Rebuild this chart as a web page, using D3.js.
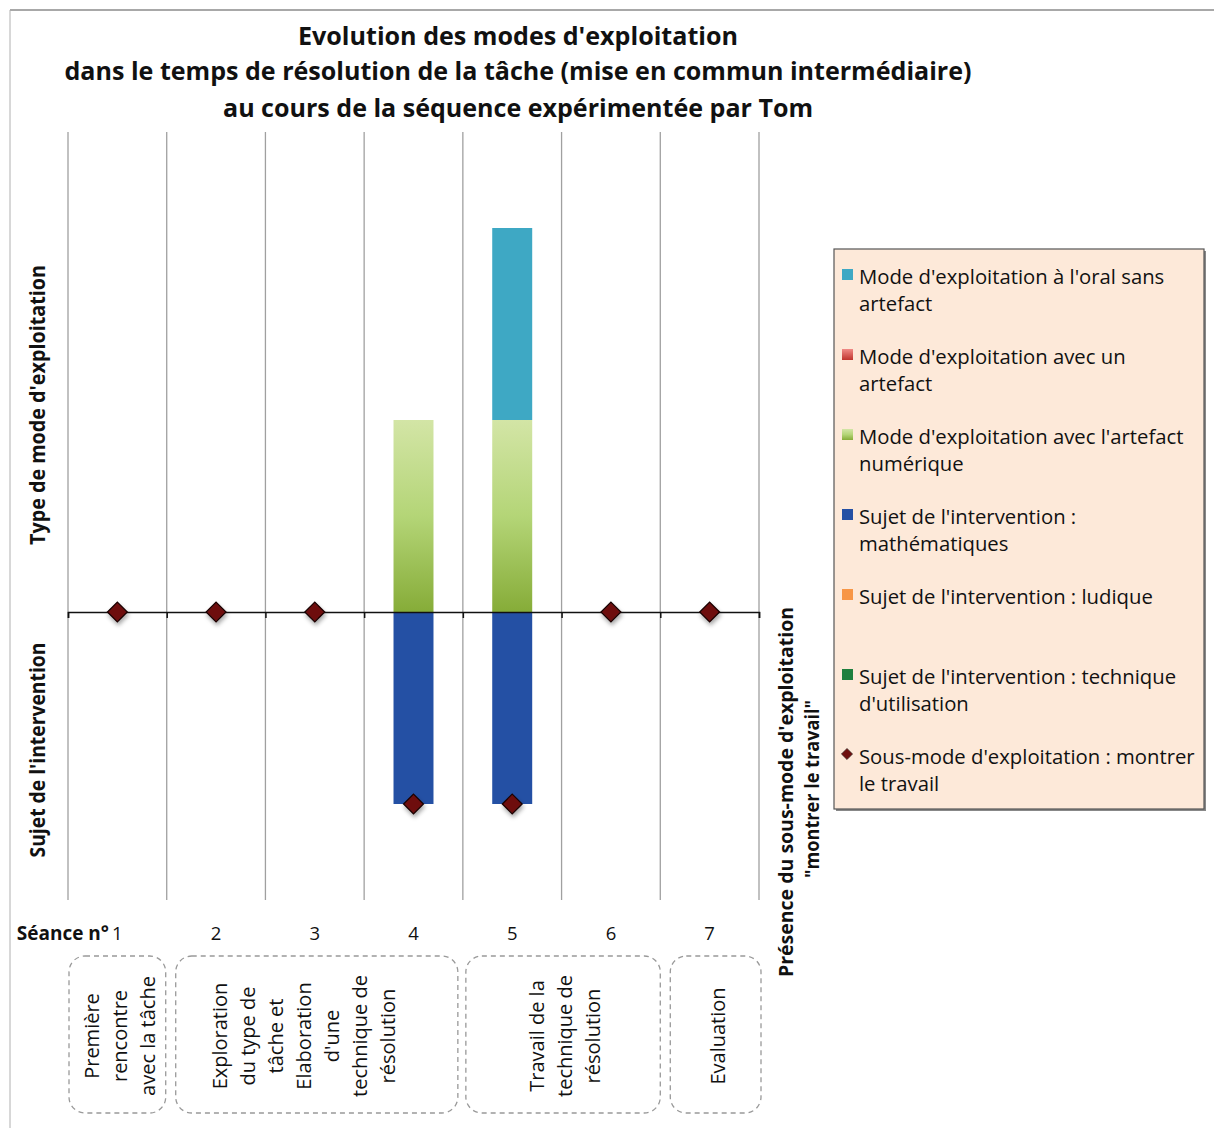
<!DOCTYPE html>
<html><head><meta charset="utf-8">
<script src="https://cdn.jsdelivr.net/npm/d3@7"></script>
<style>
body{margin:0;background:#fff;}
svg{display:block;font-family:"Open Sans",sans-serif;}
</style></head>
<body>
<script>
// ---------- data ----------
const sessions = ["1","2","3","4","5","6","7"];
const oralSansArtefact = [0,0,0,0,1,0,0];
const avecUnArtefact = [0,0,0,0,0,0,0];
const artefactNumerique = [0,0,0,1,1,0,0];
const sujetMaths = [0,0,0,-1,-1,0,0];
const sujetLudique = [0,0,0,0,0,0,0];
const sujetTechnique = [0,0,0,0,0,0,0];
const montrerTravail = [0,0,0,-1,-1,0,0];
const titleLines = ["Evolution des modes d'exploitation",
  "dans le temps de résolution de la tâche (mise en commun intermédiaire)",
  "au cours de la séquence expérimentée par Tom"];
const legendLabels = [
  ["Mode d'exploitation à l'oral sans","artefact"],
  ["Mode d'exploitation avec un","artefact"],
  ["Mode d'exploitation avec l'artefact","numérique"],
  ["Sujet de l'intervention :","mathématiques"],
  ["Sujet de l'intervention : ludique"],
  ["Sujet de l'intervention : technique","d'utilisation"],
  ["Sous-mode d'exploitation : montrer","le travail"]];
const phaseLabels = [
  ["Première","rencontre","avec la tâche"],
  ["Exploration","du type de","tâche et","Elaboration","d'une","technique de","résolution"],
  ["Travail de la","technique de","résolution"],
  ["Evaluation"]];
const phaseStart = ["1","2","5","7"];
const phaseEnd = ["1","4","6","7"];

// ---------- setup ----------
const W=1214,H=1128;
const svg=d3.select("body").append("svg").attr("width",W).attr("height",H);
const defs=svg.append("defs");
function vgrad(id,stops){
  const g=defs.append("linearGradient").attr("id",id).attr("x1",0).attr("y1",0).attr("x2",0).attr("y2",1);
  stops.forEach(s=>g.append("stop").attr("offset",s[0]).attr("stop-color",s[1]));
}
vgrad("gGreen",[[0,"#d3e5a6"],[0.5,"#b4d577"],[1,"#86ac38"]]);
vgrad("gRed",[[0,"#f08a86"],[1,"#c0352e"]]);
const sh=defs.append("filter").attr("id","shadow").attr("x","-50%").attr("y","-50%").attr("width","200%").attr("height","200%");
sh.append("feDropShadow").attr("dx",1).attr("dy",3).attr("stdDeviation",2).attr("flood-color","#000").attr("flood-opacity",0.35);

// frame
svg.append("line").attr("x1",10).attr("x2",W).attr("y1",10).attr("y2",10).attr("stroke","#a8a8a8").attr("stroke-width",2);
svg.append("line").attr("x1",10).attr("x2",10).attr("y1",10).attr("y2",H).attr("stroke","#b0b0b0").attr("stroke-width",1);

// title
const tLens=[440,907,590], tY=[45,80,117];
svg.selectAll("text.title").data(titleLines).join("text").attr("class","title")
  .attr("x",518).attr("y",(d,i)=>tY[i]).attr("text-anchor","middle")
  .attr("font-weight","bold").attr("font-size",25).attr("fill","#111")
  .attr("textLength",(d,i)=>tLens[i]).attr("lengthAdjust","spacingAndGlyphs").text(d=>d);

// scales
const x=d3.scaleBand().domain(sessions).range([68,759]).paddingInner(0.595).paddingOuter(0.2975);
const y=d3.scaleLinear().domain([-1.5,2.5]).range([900,132]);
const bx=d3.scaleLinear().domain([0,7]).range([68,759]);

// gridlines
svg.append("g").selectAll("line").data(d3.range(8)).join("line")
  .attr("x1",d=>bx(d)).attr("x2",d=>bx(d)).attr("y1",y(2.5)).attr("y2",y(-1.5))
  .attr("stroke","#a0a0a0").attr("stroke-width",1.3);

// stacked bars
const posSeries=[{v:artefactNumerique,fill:"url(#gGreen)"},{v:avecUnArtefact,fill:"url(#gRed)"},{v:oralSansArtefact,fill:"#3ea8c4"}];
const negSeries=[{v:sujetMaths,fill:"#2450a4"},{v:sujetLudique,fill:"#f79646"},{v:sujetTechnique,fill:"#1e7f3e"}];
const bars=svg.append("g");
sessions.forEach((s,i)=>{
  let p=0,n=0;
  posSeries.forEach(ser=>{const v=ser.v[i]; if(v>0){
    bars.append("rect").attr("x",x(s)).attr("width",x.bandwidth()).attr("y",y(p+v)).attr("height",y(p)-y(p+v)).attr("fill",ser.fill);
    p+=v;}});
  negSeries.forEach(ser=>{const v=ser.v[i]; if(v<0){
    bars.append("rect").attr("x",x(s)).attr("width",x.bandwidth()).attr("y",y(n)).attr("height",y(n+v)-y(n)).attr("fill",ser.fill);
    n+=v;}});
});

// zero axis
svg.append("g").attr("transform",`translate(0,${y(0)})`)
  .call(d3.axisBottom(bx).tickValues(d3.range(8)).tickSize(6).tickFormat(""))
  .call(g=>g.select(".domain").attr("stroke","#111").attr("stroke-width",1.5))
  .call(g=>g.selectAll(".tick line").attr("stroke","#111").attr("stroke-width",1.5));

// diamonds
const diamond=d3.symbol(d3.symbolDiamond2,250);
svg.append("g").selectAll("path").data(sessions).join("path")
  .attr("d",diamond())
  .attr("transform",(s,i)=>`translate(${x(s)+x.bandwidth()/2},${y(montrerTravail[i])})`)
  .attr("fill","#6e0f0f").attr("stroke","#1a0505").attr("stroke-width",1.3)
  .attr("filter","url(#shadow)");

// session labels
svg.append("g").attr("transform","translate(0,940)")
  .call(d3.axisBottom(x).tickSize(0).tickPadding(0))
  .call(g=>g.select(".domain").remove())
  .call(g=>g.selectAll("text").attr("font-size",18.5).attr("font-family","'Open Sans',sans-serif").attr("fill","#111").attr("dy","0"));
svg.append("text").attr("x",109).attr("y",940).attr("text-anchor","end").attr("font-weight","bold").attr("font-size",19).attr("fill","#111").text("Séance n°");

// y-axis labels
function rotLabel(txt,cx,cy,len,size){
  svg.append("text").attr("transform",`translate(${cx},${cy}) rotate(-90)`).attr("text-anchor","middle")
    .attr("dy","0.35em").attr("font-weight","bold").attr("font-size",size).attr("fill","#111")
    .attr("textLength",len).attr("lengthAdjust","spacingAndGlyphs").text(txt);
}
rotLabel("Type de mode d'exploitation",38,405,280,21);
rotLabel("Sujet de l'intervention",38,750,215,21);
rotLabel("Présence du sous-mode d'exploitation",786,792,370,19);
rotLabel("\"montrer le travail\"",812,789,178,19);

// phase boxes
const phaseTextX=[120,304,565,718];
const insetL=[1,9,3,10], insetR=[1,5,0,-2];
const phases=svg.append("g");
phaseLabels.forEach((lines,k)=>{
  const x0=x(phaseStart[k])-x.step()*x.paddingOuter()+insetL[k];
  const x1=x(phaseEnd[k])+x.bandwidth()+x.step()*x.paddingOuter()-insetR[k];
  phases.append("rect").attr("x",x0).attr("y",956).attr("width",x1-x0).attr("height",157)
    .attr("rx",16).attr("ry",16).attr("fill","none").attr("stroke","#999").attr("stroke-width",1.3).attr("stroke-dasharray","5,4");
  const n=lines.length;
  lines.forEach((t,j)=>{
    const cx=phaseTextX[k]+(j-(n-1)/2)*28;
    phases.append("text").attr("transform",`translate(${cx},1036) rotate(-90)`).attr("text-anchor","middle")
      .attr("dy","0.35em").attr("font-size",20).attr("fill","#111").text(t);
  });
});

// legend
const lg=svg.append("g");
lg.append("rect").attr("x",836).attr("y",251).attr("width",370).attr("height",560).attr("fill","#888");
lg.append("rect").attr("x",834).attr("y",249).attr("width",370).attr("height",560).attr("fill","#fde9d9").attr("stroke","#555").attr("stroke-width",1.2);
const legendFill=["#3ea8c4","url(#gRed)","url(#gGreen)","#2450a4","#f79646","#1e7f3e",null];
legendLabels.forEach((lines,i)=>{
  const by=284+i*80;
  if(legendFill[i]) lg.append("rect").attr("x",842).attr("y",by-15).attr("width",11).attr("height",11).attr("fill",legendFill[i]);
  else lg.append("path").attr("d",d3.symbol(d3.symbolDiamond2,80)()).attr("transform",`translate(847,${by-10})`).attr("fill","#6e0f0f").attr("stroke","#222").attr("stroke-width",0.6);
  lines.forEach((t,j)=>{
    lg.append("text").attr("x",859).attr("y",by+j*27).attr("font-size",20.3).attr("fill","#111").text(t);
  });
});
</script>
</body></html>
